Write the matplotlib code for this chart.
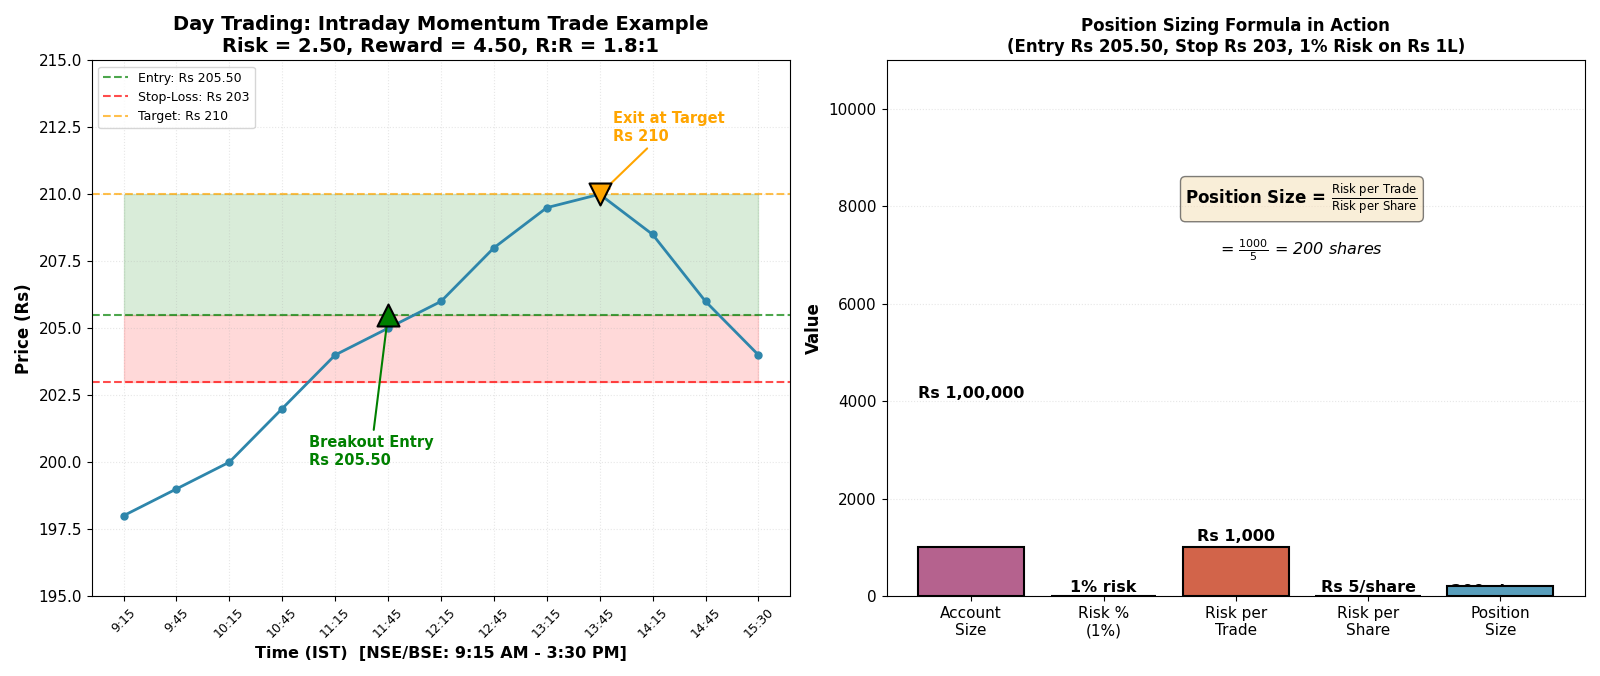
import numpy as np
import matplotlib.pyplot as plt

# data
times = ['9:15', '9:45', '10:15', '10:45', '11:15', '11:45', '12:15',
         '12:45', '13:15', '13:45', '14:15', '14:45', '15:30']
prices = [198, 199, 200, 202, 204, 205, 206, 208, 209.5, 210, 208.5, 206, 204]
entry = 205.5
stop = 203
target = 210
entry_idx = 5
exit_idx = 9

categories = ['Account\nSize', 'Risk %\n(1%)', 'Risk per\nTrade', 'Risk per\nShare', 'Position\nSize']
bar_values = [1000, 1, 1000, 5, 200]
bar_labels = ['Rs 1,00,000', '1% risk', 'Rs 1,000', 'Rs 5/share', '200 shares']
bar_colors = ['#B5628E', '#F4A534', '#D2644A', '#624C55', '#589EBC']

fig, (ax1, ax2) = plt.subplots(1, 2, figsize=(16, 6.76), dpi=100)

# left: intraday trade
x = np.arange(len(times))
ax1.plot(x, prices, color='#2E86AB', lw=2, marker='o', ms=5, zorder=3)
ax1.axhline(entry, color='green', ls='--', lw=1.5, alpha=0.7, label=f'Entry: Rs {entry:.2f}')
ax1.axhline(stop, color='red', ls='--', lw=1.5, alpha=0.7, label=f'Stop-Loss: Rs {stop}')
ax1.axhline(target, color='orange', ls='--', lw=1.5, alpha=0.7, label=f'Target: Rs {target}')
ax1.fill_between(x, entry, target, color='green', alpha=0.15)
ax1.fill_between(x, stop, entry, color='red', alpha=0.15)

ax1.scatter(x[entry_idx], entry, marker='^', s=250, color='green', edgecolor='black', lw=1.5, zorder=5)
ax1.scatter(x[exit_idx], target, marker='v', s=250, color='orange', edgecolor='black', lw=1.5, zorder=5)

ax1.annotate('Breakout Entry\nRs 205.50', xy=(x[entry_idx], entry), xytext=(3.5, 199.9),
             fontsize=10.5, fontweight='bold', color='green',
             arrowprops=dict(arrowstyle='->', color='green', lw=1.5))
ax1.annotate('Exit at Target\nRs 210', xy=(x[exit_idx], target), xytext=(9.25, 212),
             fontsize=10.5, fontweight='bold', color='orange',
             arrowprops=dict(arrowstyle='->', color='orange', lw=1.5))

ax1.set_xticks(x)
ax1.set_xticklabels(times, rotation=45, fontsize=9)
ax1.tick_params(axis='y', labelsize=11)
ax1.set_ylim(195, 215)
ax1.set_xlabel('Time (IST)  [NSE/BSE: 9:15 AM - 3:30 PM]', fontsize=11.5, fontweight='bold')
ax1.set_ylabel('Price (Rs)', fontsize=12, fontweight='bold')
ax1.set_title('Day Trading: Intraday Momentum Trade Example\nRisk = 2.50, Reward = 4.50, R:R = 1.8:1',
              fontsize=14, fontweight='bold')
ax1.legend(loc='upper left', fontsize=9)
ax1.grid(True, alpha=0.3, ls=':')

# right: position sizing
bx = np.arange(len(categories))
ax2.bar(bx, bar_values, width=0.8, color=bar_colors, edgecolor='black', lw=1.5, zorder=2)
# label of the last bar sits mostly behind the bar, as in the original
label_y = [4000, bar_values[1] * 1.05 + 20, bar_values[2] * 1.05 + 20, bar_values[3] * 1.05 + 20, -60]
for i in range(len(categories)):
    ax2.text(bx[i], label_y[i], bar_labels[i], ha='center', va='bottom',
             fontsize=11.5, fontweight='bold', zorder=1)

ax2.text(2.5, 8150, r'Position Size = $\frac{\mathrm{Risk\ per\ Trade}}{\mathrm{Risk\ per\ Share}}$',
         ha='center', va='center', fontsize=12, fontweight='bold',
         bbox=dict(boxstyle='round', facecolor='wheat', alpha=0.5))
ax2.text(2.5, 7100, r'= $\frac{1000}{5}$ = 200 shares', ha='center', va='center',
         fontsize=11.5, style='italic')

ax2.set_xticks(bx)
ax2.set_xticklabels(categories, fontsize=11)
ax2.tick_params(axis='y', labelsize=11)
ax2.set_ylim(0, 11000)
ax2.set_ylabel('Value', fontsize=12, fontweight='bold')
ax2.set_title('Position Sizing Formula in Action\n(Entry Rs 205.50, Stop Rs 203, 1% Risk on Rs 1L)',
              fontsize=12, fontweight='bold')
ax2.grid(True, axis='y', alpha=0.3, ls=':')

plt.tight_layout()
plt.savefig('out.png')
